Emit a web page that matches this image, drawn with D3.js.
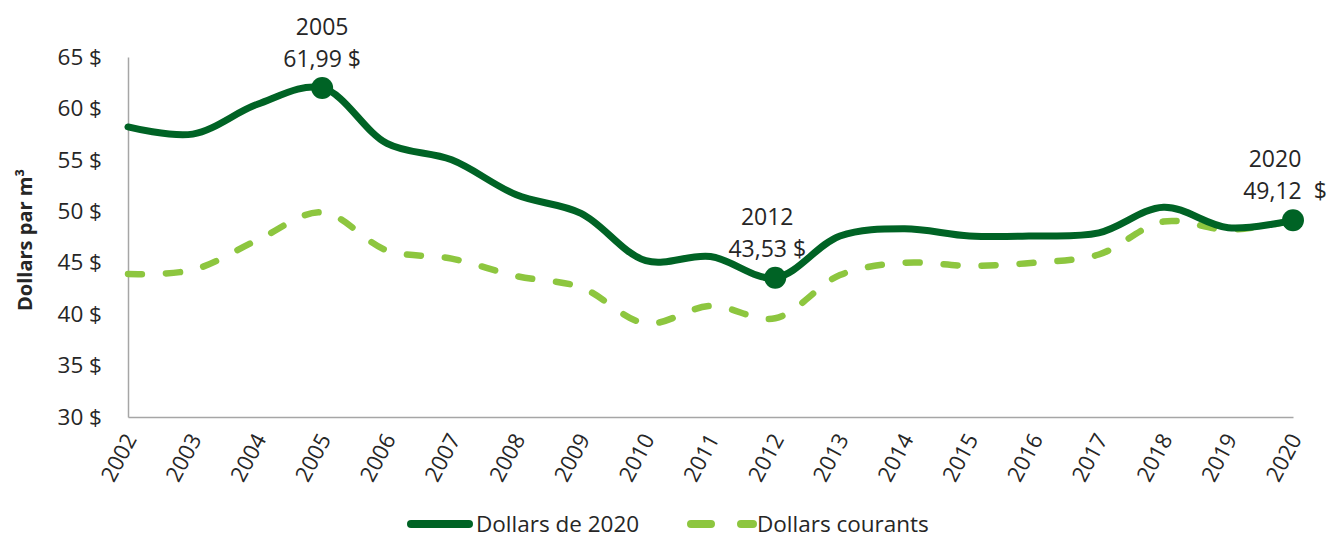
<!DOCTYPE html>
<html>
<head>
<meta charset="utf-8">
<script src="https://cdn.jsdelivr.net/npm/d3@7"></script>
<style>
  body { margin: 0; background: #fff; }
  text { font-family: "Open Sans", sans-serif; fill: #262626; }
</style>
</head>
<body>
<div id="chart"></div>
<script>
const years = [2002, 2003, 2004, 2005, 2006, 2007, 2008, 2009, 2010, 2011,
               2012, 2013, 2014, 2015, 2016, 2017, 2018, 2019, 2020];
const dollars2020 = [58.2, 57.5, 60.4, 61.99, 56.6, 55.0, 51.6, 49.8, 45.2, 45.6,
                     43.53, 47.6, 48.3, 47.6, 47.6, 47.9, 50.4, 48.4, 49.12];
const dollarsCourants = [43.9, 44.3, 47.2, 49.9, 46.2, 45.4, 43.7, 42.6, 39.1, 40.8,
                         39.6, 43.8, 45.0, 44.7, 45.0, 45.8, 49.0, 48.2, 49.1];
const yTicks = [30, 35, 40, 45, 50, 55, 60, 65];
const highlights = [
  { year: 2005, label: "61,99 $" },
  { year: 2012, label: "43,53 $" },
  { year: 2020, label: "49,12  $" }
];
const legendItems = ["Dollars de 2020", "Dollars courants"];

const width = 1338, height = 538;
const margin = { top: 57, right: 45, bottom: 121, left: 128 };
const dark = "#006325", light = "#8dc63f";

const svg = d3.select("#chart").append("svg")
  .attr("width", width).attr("height", height);

const x = d3.scaleLinear()
  .domain([years[0], years[years.length - 1]])
  .range([margin.left, width - margin.right]);

const y = d3.scaleLinear()
  .domain([30, 65])
  .range([height - margin.bottom, margin.top]);

// y axis
const yAxis = svg.append("g")
  .attr("transform", `translate(${margin.left},0)`)
  .call(d3.axisLeft(y).tickValues(yTicks).tickSize(0).tickPadding(26).tickFormat(d => d + " $"));
yAxis.select(".domain").attr("stroke", "#a6a6a6").attr("stroke-width", 1.5);
yAxis.selectAll("text").style("font-size", "22.5px").attr("fill", "#262626");

// x axis
const xAxis = svg.append("g")
  .attr("transform", `translate(0,${height - margin.bottom})`)
  .call(d3.axisBottom(x).tickValues(years).tickSize(0).tickFormat(d3.format("d")));
xAxis.select(".domain").attr("stroke", "#a6a6a6").attr("stroke-width", 1.5);
xAxis.selectAll("text")
  .style("font-size", "22px")
  .attr("fill", "#262626")
  .attr("text-anchor", "end")
  .attr("dy", null)
  .attr("y", 0)
  .attr("transform", "translate(9,22) rotate(-62)");

// y axis title
svg.append("text")
  .attr("transform", `translate(32,${(margin.top + height - margin.bottom) / 2 + 3}) rotate(-90)`)
  .attr("text-anchor", "middle")
  .style("font-size", "20px")
  .style("font-weight", "700")
  .attr("fill", "#000")
  .text("Dollars par m³");

const line = d3.line()
  .x((d, i) => x(years[i]))
  .y(d => y(d))
  .curve(d3.curveCatmullRom.alpha(0.5));

svg.append("path")
  .datum(dollarsCourants)
  .attr("d", line)
  .attr("fill", "none")
  .attr("stroke", light)
  .attr("stroke-width", 6.5)
  .attr("stroke-linecap", "round")
  .attr("stroke-dasharray", "14,24");

svg.append("path")
  .datum(dollars2020)
  .attr("d", line)
  .attr("fill", "none")
  .attr("stroke", dark)
  .attr("stroke-width", 7)
  .attr("stroke-linecap", "round");

// highlighted points
const hl = svg.selectAll(".hl")
  .data(highlights)
  .enter().append("g")
  .attr("class", "hl");

hl.append("circle")
  .attr("cx", d => x(d.year))
  .attr("cy", d => y(dollars2020[years.indexOf(d.year)]))
  .attr("r", 11)
  .attr("fill", dark);

hl.append("text")
  .attr("x", d => x(d.year) - (d.year === 2012 ? 8 : d.year === 2020 ? 18 : 0))
  .attr("y", d => y(dollars2020[years.indexOf(d.year)]) - 53)
  .attr("text-anchor", "middle")
  .style("font-size", "23px")
  .text(d => d.year);

hl.append("text")
  .attr("x", d => x(d.year) - (d.year === 2012 ? 8 : d.year === 2020 ? 8 : 0))
  .attr("y", d => y(dollars2020[years.indexOf(d.year)]) - 21)
  .attr("text-anchor", "middle")
  .style("font-size", "23px")
  .style("white-space", "pre")
  .text(d => d.label);

// legend
const legend = svg.append("g").attr("transform", "translate(0,524)");
const lx = [411, 691];
legend.selectAll("path")
  .data(legendItems)
  .enter().append("path")
  .attr("d", (d, i) => `M${lx[i]},0H${lx[i] + (i === 0 ? 58 : 62)}`)
  .attr("stroke", (d, i) => i === 0 ? dark : light)
  .attr("stroke-width", 8)
  .attr("stroke-linecap", "round")
  .attr("stroke-dasharray", (d, i) => i === 0 ? null : "20,30");
legend.selectAll("text")
  .data(legendItems)
  .enter().append("text")
  .attr("x", (d, i) => i === 0 ? 476 : 757)
  .attr("y", 8)
  .style("font-size", "22.5px")
  .text(d => d);
</script>
</body>
</html>
